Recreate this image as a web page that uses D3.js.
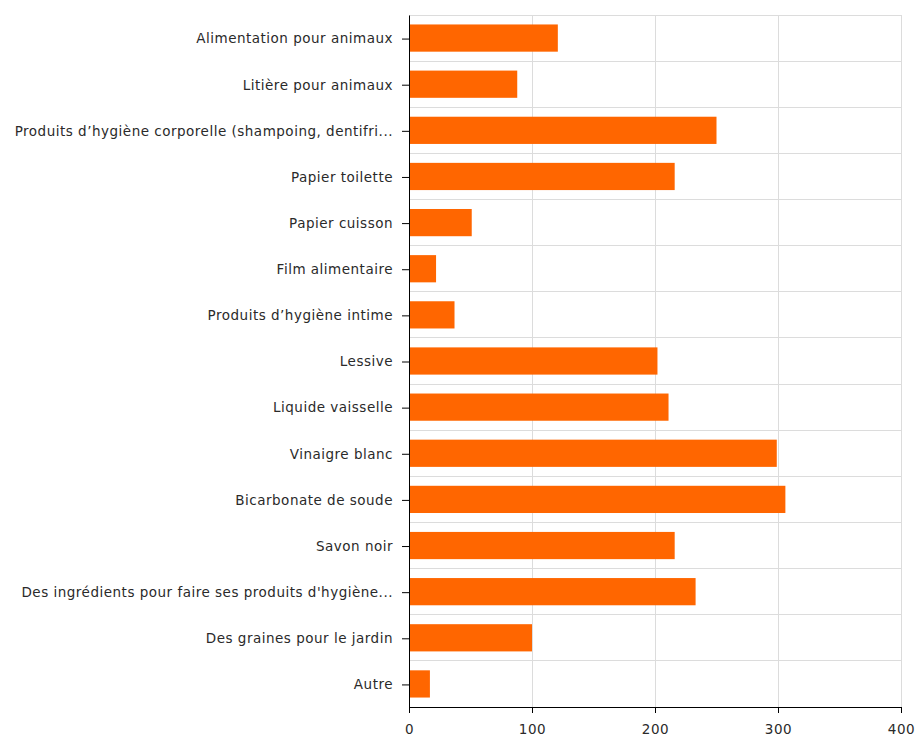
<!DOCTYPE html>
<html><head><meta charset="utf-8">
<script src="https://cdn.jsdelivr.net/npm/d3@7"></script>
<style>body{margin:0;background:#fff;} text{font-family:"DejaVu Sans",Verdana,sans-serif;}</style>
</head><body>
<svg id="chart" width="915" height="739"></svg>
<script>
const categories = [
  "Alimentation pour animaux",
  "Litière pour animaux",
  "Produits d’hygiène corporelle (shampoing, dentifri...",
  "Papier toilette",
  "Papier cuisson",
  "Film alimentaire",
  "Produits d’hygiène intime",
  "Lessive",
  "Liquide vaisselle",
  "Vinaigre blanc",
  "Bicarbonate de soude",
  "Savon noir",
  "Des ingrédients pour faire ses produits d'hygiène...",
  "Des graines pour le jardin",
  "Autre"
];
const values = [121, 88, 250, 216, 51, 22, 37, 202, 211, 299, 306, 216, 233, 100, 17];
const xTicks = [0, 100, 200, 300, 400];

const svg = d3.select("#chart");
const m = {left: 409, right: 14, top: 15, bottom: 32};
const W = 915, H = 739;
const x = d3.scaleLinear().domain([0, 400]).range([m.left, W - m.right]);
const y = d3.scaleBand().domain(categories).range([m.top, H - m.bottom]).paddingInner(0.41).paddingOuter(0.205);

// grid vertical
svg.append("g").selectAll("line").data(xTicks).join("line")
  .attr("x1", d => x(d)).attr("x2", d => x(d))
  .attr("y1", m.top).attr("y2", H - m.bottom)
  .attr("stroke", "#dcdcdc").attr("stroke-width", 1).attr("shape-rendering","crispEdges");
// grid horizontal (band boundaries)
const bounds = d3.range(categories.length + 1).map(i => m.top + i * (H - m.bottom - m.top) / categories.length);
svg.append("g").selectAll("line").data(bounds).join("line")
  .attr("x1", m.left).attr("x2", W - m.right)
  .attr("y1", d => d).attr("y2", d => d)
  .attr("stroke", "#dcdcdc").attr("stroke-width", 1).attr("shape-rendering","crispEdges");

// bars
svg.append("g").selectAll("rect").data(categories).join("rect")
  .attr("x", x(0)).attr("y", d => y(d))
  .attr("width", (d, i) => x(values[i]) - x(0))
  .attr("height", y.bandwidth())
  .attr("fill", "#ff6600");

const fontCss = '"DejaVu Sans",Verdana,sans-serif';
// axes
const yAxis = svg.append("g").attr("transform", `translate(${m.left},1)`)
  .call(d3.axisLeft(y).tickSize(7).tickSizeOuter(0).tickPadding(9));
yAxis.select(".domain").attr("stroke", "#000").attr("transform", "translate(0,-1)");
yAxis.selectAll("text").attr("font-size", 13.5).attr("fill", "#2a2a2a")
  .style("font-family", fontCss).style("letter-spacing", "0.5px");

const xAxis = svg.append("g").attr("transform", `translate(0,${H - m.bottom})`)
  .call(d3.axisBottom(x).tickValues(xTicks).tickSize(6).tickSizeOuter(0).tickPadding(11));
xAxis.select(".domain").attr("stroke", "#000");
xAxis.selectAll("text").attr("font-size", 13.5).attr("fill", "#2a2a2a")
  .style("font-family", fontCss).style("letter-spacing", "0.5px");
</script>
</body></html>
